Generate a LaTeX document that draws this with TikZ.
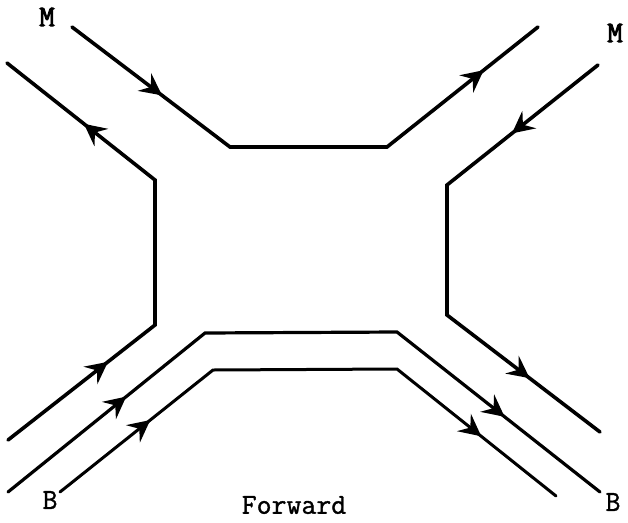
\documentclass[tikz,border=0pt]{standalone}
\usepackage{fontspec}
\newfontfamily\labfont{Latin Modern Mono}[FakeBold=1.2]
\newfontfamily\heavyfont{Latin Modern Mono}[FakeBold=3]
\usepackage{tikz}
\usetikzlibrary{arrows.meta,decorations.markings}

\tikzset{
  quark/.style={line width=3.6pt, line join=miter, line cap=round},
  flow/.style={decoration={markings,
      mark=at position #1 with {\arrow{Stealth[length=22pt,width=22pt,inset=8pt]}}},
    postaction={decorate}},
  lab/.style={font=\fontsize{29}{29}\selectfont\labfont},
  heavylab/.style={font=\fontsize{30}{30}\selectfont\heavyfont},
}

\begin{document}
\begin{tikzpicture}[x=1pt,y=-1pt]

\useasboundingbox (0,0) rectangle (628,522);

% Corners of the meson line (top)
\coordinate (a1) at (72,27);
\coordinate (a2) at (230,147);
\coordinate (a3) at (387,147);
\coordinate (a4) at (538,27);

% Left outer line
\coordinate (b1) at (7,63);
\coordinate (b2) at (155,180);
\coordinate (b3) at (155,325);
\coordinate (b4) at (8,440);

% Right outer line
\coordinate (c1) at (598,65);
\coordinate (c2) at (447,185);
\coordinate (c3) at (447,315);
\coordinate (c4) at (600,432);

% Baryon lines (bottom)
\coordinate (d1) at (8,492);
\coordinate (d2) at (205,333);
\coordinate (d3) at (397,332);
\coordinate (d4) at (600,492);

\coordinate (e1) at (60,492);
\coordinate (e2) at (213,370);
\coordinate (e3) at (397,369);
\coordinate (e4) at (556,496);

% Lines
\draw[quark] (a1)--(a2)--(a3)--(a4);
\draw[quark] (b1)--(b2)--(b3)--(b4);
\draw[quark] (c1)--(c2)--(c3)--(c4);
\draw[quark,line width=3.2pt] (d1)--(d2)--(d3)--(d4);
\draw[quark,line width=3pt] (e1)--(e2)--(e3)--(e4);

% Arrows
\path[quark,flow=0.57] (a1)--(a2);
\path[quark,flow=0.64] (a3)--(a4);
\path[quark,flow=0.48] (b2)--(b1);
\path[quark,flow=0.68] (b4)--(b3);
\path[quark,flow=0.57] (c1)--(c2);
\path[quark,flow=0.54] (c3)--(c4);
\path[quark,flow=0.60] (d1)--(d2);
\path[quark,flow=0.53] (d3)--(d4);
\path[quark,flow=0.59] (e1)--(e2);
\path[quark,flow=0.53] (e3)--(e4);

% Labels
\node[heavylab] (mleft) at (47,17) {M};
\node[heavylab] (mright) at (615,33) {M};
\node[lab] (bleft) at (50,500) {B};
\node[lab] (bright) at (613,502) {B};
\node[lab] (fwd) at (294,505) {Forward};

\end{tikzpicture}
\end{document}
